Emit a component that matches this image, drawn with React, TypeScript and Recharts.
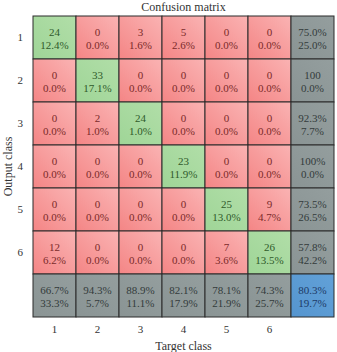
import { ScatterChart, Scatter, XAxis, YAxis } from "recharts";

const classes = [1, 2, 3, 4, 5, 6];

// rows = output class, columns = target class
const counts = [
  [24, 0, 3, 5, 0, 0],
  [0, 33, 0, 0, 0, 0],
  [0, 2, 24, 0, 0, 0],
  [0, 0, 0, 23, 0, 0],
  [0, 0, 0, 0, 25, 9],
  [12, 0, 0, 0, 7, 26],
];

const percents = [
  ["12.4%", "0.0%", "1.6%", "2.6%", "0.0%", "0.0%"],
  ["0.0%", "17.1%", "0.0%", "0.0%", "0.0%", "0.0%"],
  ["0.0%", "1.0%", "1.0%", "0.0%", "0.0%", "0.0%"],
  ["0.0%", "0.0%", "0.0%", "11.9%", "0.0%", "0.0%"],
  ["0.0%", "0.0%", "0.0%", "0.0%", "13.0%", "4.7%"],
  ["6.2%", "0.0%", "0.0%", "0.0%", "3.6%", "13.5%"],
];

const rowCorrect = ["75.0%", "100", "92.3%", "100%", "73.5%", "57.8%"];
const rowWrong = ["25.0%", "0.0%", "7.7%", "0.0%", "26.5%", "42.2%"];
const colCorrect = ["66.7%", "94.3%", "88.9%", "82.1%", "78.1%", "74.3%"];
const colWrong = ["33.3%", "5.7%", "11.1%", "17.9%", "21.9%", "25.7%"];
const overall = ["80.3%", "19.7%"];

const W = 337;
const H = 352;
const M = { top: 16, right: 3, left: 0, bottom: 0 };
const Y_AXIS_W = 33;
const X_AXIS_H = 35;
const CELL_W = (W - M.left - M.right - Y_AXIS_W) / 7;
const CELL_H = (H - M.top - M.bottom - X_AXIS_H) / 7;
const FONT = '"Liberation Serif", "DejaVu Serif", serif';

type Kind = "hit" | "miss" | "summary" | "total";

interface CellDatum {
  x: number;
  y: number;
  kind: Kind;
  top: string;
  bottom: string;
}

const cells: CellDatum[] = [];
classes.forEach((r, ri) => {
  classes.forEach((c, ci) => {
    cells.push({
      x: c,
      y: r,
      kind: r === c ? "hit" : "miss",
      top: String(counts[ri][ci]),
      bottom: percents[ri][ci],
    });
  });
  cells.push({ x: 7, y: r, kind: "summary", top: rowCorrect[ri], bottom: rowWrong[ri] });
});
classes.forEach((c, ci) => {
  cells.push({ x: c, y: 7, kind: "summary", top: colCorrect[ci], bottom: colWrong[ci] });
});
cells.push({ x: 7, y: 7, kind: "total", top: overall[0], bottom: overall[1] });

const palette: Record<Kind, { from: string; to: string; text: string }> = {
  hit: { from: "#9fd597", to: "#b1dea8", text: "#2f5a2a" },
  miss: { from: "#f48585", to: "#fab3b3", text: "#7a2a2a" },
  summary: { from: "#8a9494", to: "#949e9e", text: "#333b3b" },
  total: { from: "#5595cf", to: "#62a1d8", text: "#1d3a66" },
};

function MatrixCell(props: any) {
  const { cx, cy, payload } = props;
  const d = payload as CellDatum;
  const p = palette[d.kind];
  const id = `g-${d.x}-${d.y}`;
  return (
    <g>
      <defs>
        <linearGradient id={id} x1="0" y1="1" x2="1" y2="0">
          <stop offset="0%" stopColor={p.from} />
          <stop offset="100%" stopColor={p.to} />
        </linearGradient>
      </defs>
      <rect
        x={cx - CELL_W / 2}
        y={cy - CELL_H / 2}
        width={CELL_W}
        height={CELL_H}
        fill={`url(#${id})`}
        stroke="#2b2b2b"
        strokeWidth={1}
      />
      <text
        x={cx}
        y={cy - 6}
        textAnchor="middle"
        dominantBaseline="central"
        fontSize={11}
        fontFamily={FONT}
        fill={p.text}
      >
        {d.top}
      </text>
      <text
        x={cx}
        y={cy + 7.5}
        textAnchor="middle"
        dominantBaseline="central"
        fontSize={11}
        fontFamily={FONT}
        fill={p.text}
      >
        {d.bottom}
      </text>
    </g>
  );
}

export default function App() {
  return (
    <div style={{ position: "absolute", left: 0, top: 0, width: W, height: H, background: "#fff" }}>
      <div
        style={{
          position: "absolute",
          left: 33,
          width: 301,
          top: 0,
          textAlign: "center",
          fontFamily: FONT,
          fontSize: 12,
          lineHeight: "14px",
          color: "#333",
        }}
      >
        Confusion matrix
      </div>
      <ScatterChart width={W} height={H} margin={M}>
        <XAxis
          type="number"
          dataKey="x"
          domain={[0.5, 7.5]}
          ticks={classes}
          height={X_AXIS_H}
          axisLine={false}
          tickLine={false}
          tick={{ fontSize: 11, fontFamily: FONT, fill: "#333" }}
          tickMargin={2}
          label={{
            value: "Target class",
            position: "insideBottom",
            offset: 2,
            fontSize: 12,
            fontFamily: FONT,
            fill: "#333",
          }}
        />
        <YAxis
          type="number"
          dataKey="y"
          domain={[0.5, 7.5]}
          reversed
          ticks={classes}
          width={Y_AXIS_W}
          axisLine={false}
          tickLine={false}
          tick={{ fontSize: 11, fontFamily: FONT, fill: "#333" }}
          tickMargin={4}
          label={{
            value: "Output class",
            angle: -90,
            position: "insideLeft",
            offset: 8,
            fontSize: 12,
            fontFamily: FONT,
            fill: "#333",
            style: { textAnchor: "middle" },
          }}
        />
        <Scatter data={cells} shape={MatrixCell} isAnimationActive={false} />
      </ScatterChart>
    </div>
  );
}
